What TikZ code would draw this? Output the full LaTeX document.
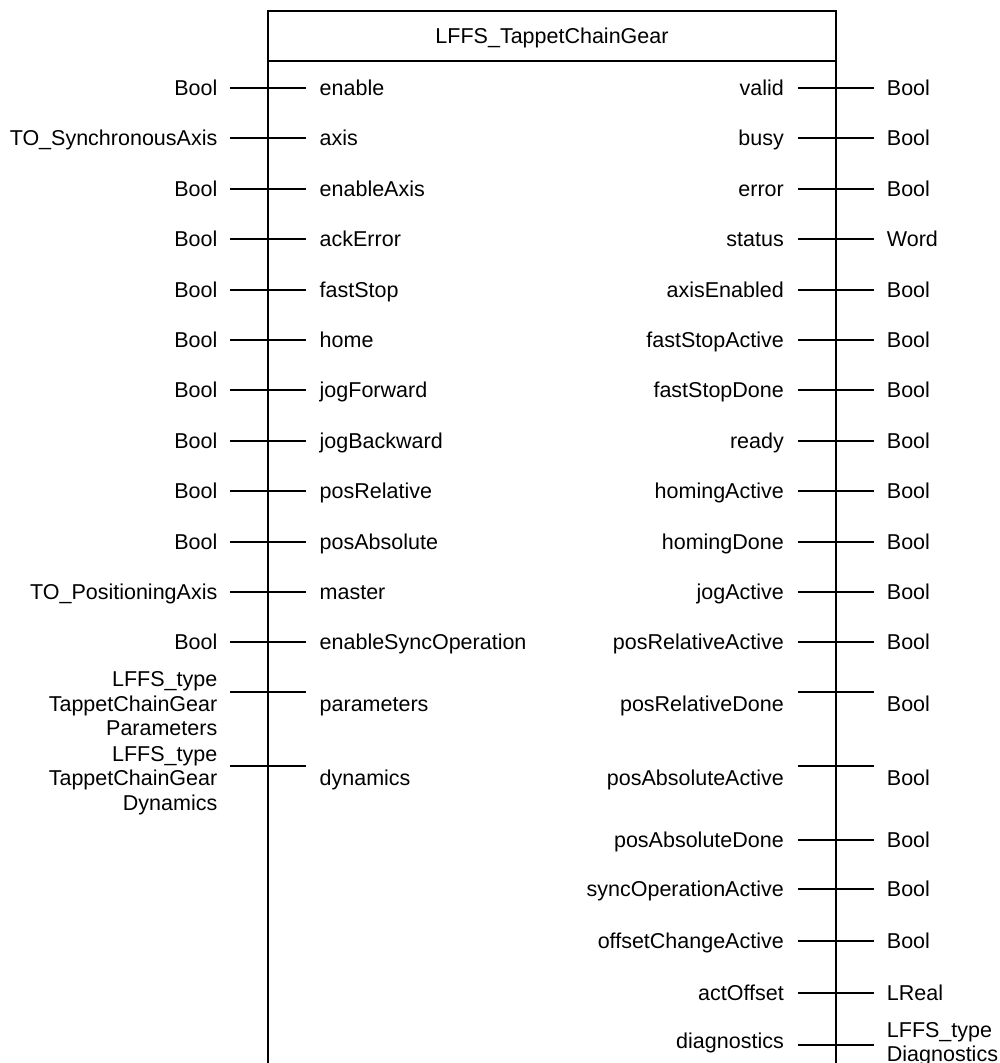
\documentclass[tikz,border=0pt]{standalone}
\usepackage{fontspec}
\setmainfont{Liberation Sans}
\begin{document}
\begin{tikzpicture}[x=1pt,y=-1pt,
  lbl/.style={font=\fontsize{21.5}{24.5}\selectfont, inner sep=0pt},
  wire/.style={line width=2pt},
  frame/.style={line width=2pt}]
\useasboundingbox (0,0) rectangle (1000,1063);

% function block frame (open at the bottom)
\draw[frame] (268,1063) -- (268,11) -- (836,11) -- (836,1063);
\draw[frame] (268,61) -- (836,61);
\node[lbl, anchor=base] (title) at (552,43) {LFFS\_TappetChainGear};

% single-line inputs
\foreach \n/\t/\y in {enable/Bool/88, axis/TO\_SynchronousAxis/138,
  enableAxis/Bool/189, ackError/Bool/239, fastStop/Bool/290,
  home/Bool/340, jogForward/Bool/390, jogBackward/Bool/441,
  posRelative/Bool/491, posAbsolute/Bool/542,
  master/TO\_PositioningAxis/592, enableSyncOperation/Bool/642}{
  \coordinate (ia-\n) at (230,\y);
  \coordinate (ib-\n) at (306,\y);
  \node[lbl, anchor=base east] (it-\n) at (217.5,\y+7) {\t};
  \node[lbl, anchor=base west] (in-\n) at (319.5,\y+7) {\n};
  \draw[wire] (ia-\n) -- (ib-\n);
}

% structured inputs (anchor on the baseline of the last line)
\foreach \n/\t/\y/\b in {parameters/Parameters/692/711, dynamics/Dynamics/766/785.5}{
  \coordinate (ia-\n) at (230,\y);
  \coordinate (ib-\n) at (306,\y);
  \node[lbl, anchor=base east, align=right] (it-\n) at (217.5,\b+24.5)
    {LFFS\_type\\TappetChainGear\\\t};
  \node[lbl, anchor=base west] (in-\n) at (319.5,\b) {\n};
  \draw[wire] (ia-\n) -- (ib-\n);
}

% single-line outputs
\foreach \n/\t/\y/\b in {valid/Bool/88/95, busy/Bool/138/145,
  error/Bool/189/196, status/Word/239/246,
  axisEnabled/Bool/290/297, fastStopActive/Bool/340/347,
  fastStopDone/Bool/390/397, ready/Bool/441/448,
  homingActive/Bool/491/498, homingDone/Bool/542/549,
  jogActive/Bool/592/599, posRelativeActive/Bool/642/649,
  posRelativeDone/Bool/692/711.5, posAbsoluteActive/Bool/766/785.5,
  posAbsoluteDone/Bool/840/847, syncOperationActive/Bool/889/896,
  offsetChangeActive/Bool/941/948, actOffset/LReal/993/1000}{
  \coordinate (oa-\n) at (798,\y);
  \coordinate (ob-\n) at (874,\y);
  \node[lbl, anchor=base east] (on-\n) at (784,\b) {\n};
  \node[lbl, anchor=base west] (ot-\n) at (886.7,\b) {\t};
  \draw[wire] (oa-\n) -- (ob-\n);
}

% structured output
\coordinate (oa-diagnostics) at (798,1045);
\coordinate (ob-diagnostics) at (874,1045);
\node[lbl, anchor=base east] (on-diagnostics) at (784,1048) {diagnostics};
\node[lbl, anchor=base west, align=left] (ot-diagnostics) at (886.7,1061.5)
  {LFFS\_type\\Diagnostics};
\draw[wire] (oa-diagnostics) -- (ob-diagnostics);
\end{tikzpicture}
\end{document}
